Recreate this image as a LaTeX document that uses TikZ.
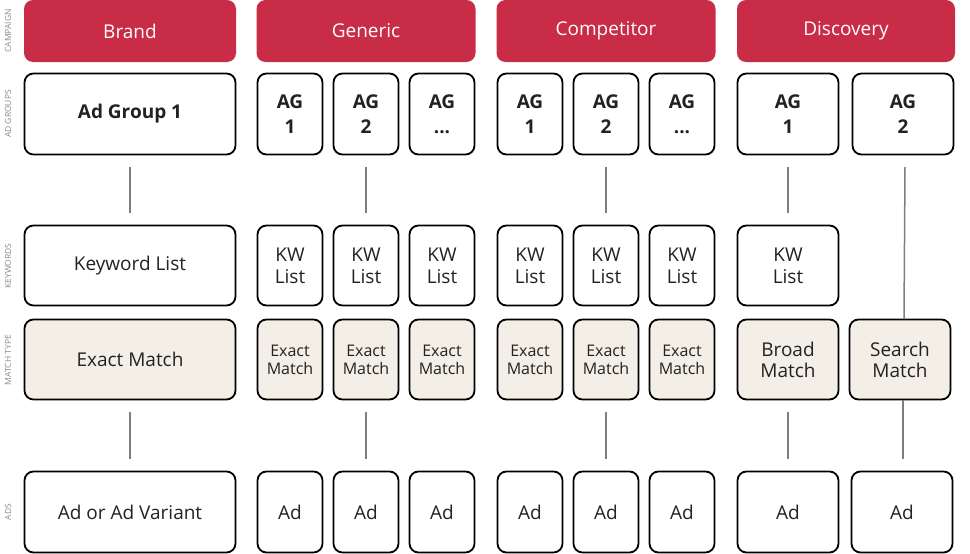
\documentclass[tikz,border=0pt]{standalone}
\usepackage{fontspec}
\setmainfont{Open Sans}
\newcommand{\agdots}{...}
\begin{document}
\begin{tikzpicture}[x=1pt,y=-1pt,
  hdr/.style={fill=camp,rounded corners=9pt,text=white,font=\fontsize{19}{22}\selectfont,inner sep=0pt},
  bx/.style={draw=black,line width=1.8pt,fill=white,rounded corners=9pt,inner sep=0pt,align=center,font=\fontsize{19}{25}\selectfont,text=txt},
  ag/.style={bx,font=\bfseries\fontsize{19}{25}\selectfont},
  mt/.style={bx,fill=beige},
  mts/.style={mt,font=\fontsize{16}{22}\selectfont},
  con/.style={draw=conn,line width=1.5pt},
  lbl/.style={rotate=90,text=lab,font=\fontsize{8.5}{10}\selectfont}]
\definecolor{camp}{HTML}{C82C47}
\definecolor{beige}{HTML}{F3EFE7}
\definecolor{conn}{HTML}{7F7F77}
\definecolor{lab}{HTML}{8A8A85}
\definecolor{txt}{HTML}{222222}
\useasboundingbox (0,0) rectangle (970,554);
% left labels
\node[lbl] (l1) at (8,31) {CAMPAIGN};
\node[lbl] (l2) at (8,114) {AD GROUPS};
\node[lbl] (l3) at (8,266) {KEYWORDS};
\node[lbl] (l4) at (8,360) {MATCH TYPE};
\node[lbl] (l5) at (8,512) {ADS};
% headers
\node[hdr,minimum width=212pt,minimum height=62pt] (hb) at (130,31) {Brand};
\node[hdr,minimum width=219pt,minimum height=62pt] (hg) at (366,31) {Generic};
\node[hdr,minimum width=219pt,minimum height=62pt] (hc) at (606,31) {Competitor};
\node[hdr,minimum width=218pt,minimum height=62pt] (hd) at (846,31) {Discovery};
% Brand column
\node[ag,minimum width=211pt,minimum height=81pt] (bag) at (130,114) {Ad Group 1};
\node[bx,minimum width=211pt,minimum height=80pt] (bkw) at (130,265.5) {Keyword List};
\node[mt,minimum width=211pt,minimum height=80pt] (bmt) at (130,359.5) {Exact Match};
\node[bx,minimum width=211pt,minimum height=81pt] (bad) at (130,512) {Ad or Ad Variant};
\draw[con] (130,167) -- (130,213);
\draw[con] (130,412) -- (130,459);
% Generic & Competitor
\foreach \n/\x/\t in {g1/290/1,g2/366/2,g3/442/\agdots,c1/530/1,c2/606/2,c3/682/\agdots}{
  \node[ag,minimum width=65pt,minimum height=81pt] (\n ag) at (\x,114) {AG\\\t};
  \node[bx,minimum width=65pt,minimum height=80pt] (\n kw) at (\x,265.5) {KW\\[-3pt]List};
  \node[mts,minimum width=65pt,minimum height=80pt] (\n mt) at (\x,359.5) {Exact\\[-4pt]Match};
  \node[bx,minimum width=65pt,minimum height=81pt] (\n ad) at (\x,512) {Ad};
}
\draw[con] (366,167) -- (366,213);
\draw[con] (366,412) -- (366,459);
\draw[con] (606,167) -- (606,213);
\draw[con] (606,412) -- (606,459);
% Discovery
\node[ag,minimum width=101pt,minimum height=81pt] (d1ag) at (788,114) {AG\\1};
\node[ag,minimum width=101pt,minimum height=81pt] (d2ag) at (903,114) {AG\\2};
\node[bx,minimum width=101pt,minimum height=80pt] (d1kw) at (788,265.5) {KW\\[-3pt]List};
\node[mt,minimum width=101pt,minimum height=80pt] (d1mt) at (788,359.5) {Broad\\[-4pt]Match};
\node[mt,minimum width=101pt,minimum height=80pt] (d2mt) at (900,359.5) {Search\\[-4pt]Match};
\node[bx,minimum width=101pt,minimum height=81pt] (d1ad) at (788,512) {Ad};
\node[bx,minimum width=101pt,minimum height=81pt] (d2ad) at (902,512) {Ad};
\draw[con] (788,167) -- (788,213);
\draw[con] (788,412) -- (788,459);
\draw[con] (905,167) -- (904,319);
\draw[con] (903,400) -- (903,459);
\end{tikzpicture}
\end{document}
